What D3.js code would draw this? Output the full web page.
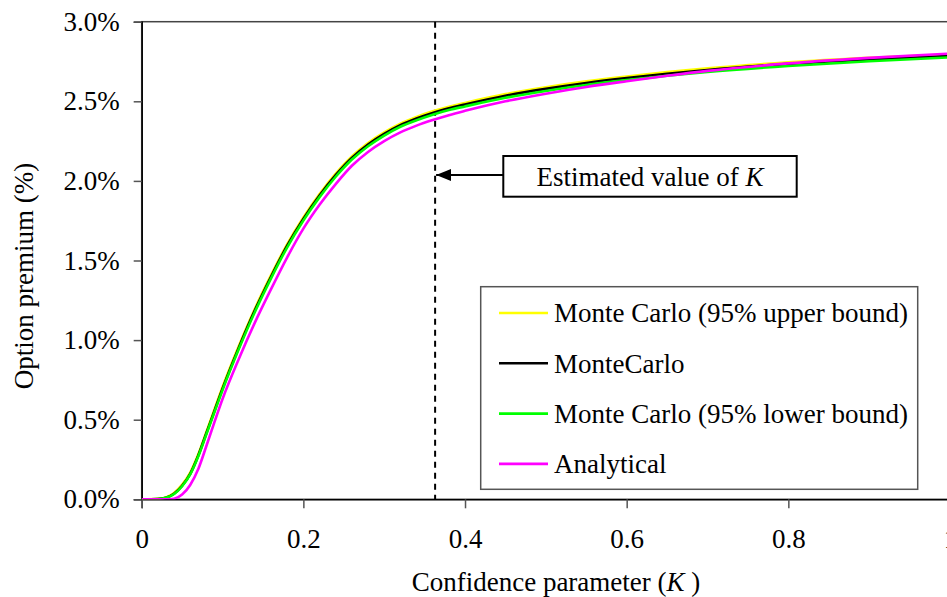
<!DOCTYPE html>
<html>
<head>
<meta charset="utf-8">
<script src="https://cdn.jsdelivr.net/npm/d3@7"></script>
<style>
html,body{margin:0;padding:0;background:#fff;}
svg{display:block;}
</style>
</head>
<body>
<svg id="chart" width="947" height="597" font-family="'Liberation Serif', 'Times New Roman', serif"></svg>
<script>
// ---- data ----
const kValues    = [0, 0.02, 0.03, 0.04, 0.05, 0.06, 0.07, 0.08, 0.09, 0.10, 0.12, 0.14, 0.16, 0.18, 0.20, 0.22, 0.24, 0.26, 0.28, 0.30, 0.32, 0.34, 0.36, 0.38, 0.40, 0.45, 0.50, 0.55, 0.60, 0.65, 0.70, 0.80, 0.90, 1.00];
const mcUpper    = [0, 0.003, 0.012, 0.04, 0.092, 0.168, 0.283, 0.423, 0.565, 0.705, 0.961, 1.197, 1.408, 1.603, 1.771, 1.918, 2.046, 2.154, 2.238, 2.305, 2.36, 2.402, 2.437, 2.466, 2.49, 2.545, 2.588, 2.625, 2.656, 2.683, 2.707, 2.745, 2.773, 2.795];
const mcMean     = [0, 0.002, 0.01, 0.035, 0.085, 0.16, 0.275, 0.415, 0.555, 0.695, 0.951, 1.187, 1.398, 1.593, 1.761, 1.908, 2.036, 2.144, 2.228, 2.295, 2.35, 2.392, 2.427, 2.456, 2.48, 2.535, 2.578, 2.615, 2.646, 2.673, 2.697, 2.735, 2.763, 2.785];
const mcLower    = [0, 0.002, 0.009, 0.033, 0.082, 0.156, 0.27, 0.409, 0.548, 0.687, 0.942, 1.177, 1.388, 1.583, 1.751, 1.898, 2.026, 2.134, 2.218, 2.285, 2.34, 2.381, 2.416, 2.445, 2.468, 2.522, 2.565, 2.602, 2.633, 2.66, 2.684, 2.722, 2.752, 2.776];
const analytical = [0, 0.0, 0.0, 0.004, 0.03, 0.09, 0.19, 0.335, 0.485, 0.63, 0.88, 1.11, 1.32, 1.52, 1.70, 1.85, 1.98, 2.095, 2.182, 2.25, 2.305, 2.347, 2.382, 2.413, 2.44, 2.50, 2.548, 2.59, 2.626, 2.66, 2.691, 2.738, 2.773, 2.80];
const seriesNames  = ["Monte Carlo (95% upper bound)", "MonteCarlo", "Monte Carlo (95% lower bound)", "Analytical"];
const seriesColors = ["#FFFF00", "#000000", "#00FF00", "#FF00FF"];
const xTicks = [0, 0.2, 0.4, 0.6, 0.8, 1];
const xTickLabels = ["0", "0.2", "0.4", "0.6", "0.8", "1"];
const yTicks = [0, 0.5, 1.0, 1.5, 2.0, 2.5, 3.0];
const yTickLabels = ["0.0%", "0.5%", "1.0%", "1.5%", "2.0%", "2.5%", "3.0%"];
const estimatedK = 0.363;

// ---- layout ----
const FONT = "'Liberation Serif', 'Times New Roman', serif";
const svg = d3.select("#chart");
const L = 141.7, R = 950, T = 21.7, B = 499.3;
const x = d3.scaleLinear().domain([0, 1]).range([L, R]);
const y = d3.scaleLinear().domain([0, 3]).range([B, T]);
const FS = 27;

// plot border (top/right)
svg.append("rect").attr("x", L).attr("y", T).attr("width", R - L).attr("height", B - T)
  .attr("fill", "none").attr("stroke", "#444").attr("stroke-width", 1.5);

// axes
const yAxis = d3.axisLeft(y).tickValues(yTicks).tickFormat((d, i) => yTickLabels[i]).tickSize(8).tickPadding(14);
const gy = svg.append("g").attr("transform", `translate(${L},0)`).call(yAxis);
gy.attr("font-family", FONT).attr("font-size", FS);
gy.select(".domain").attr("stroke", "#000").attr("stroke-width", 1.5);
gy.selectAll(".tick line").attr("stroke", "#555").attr("stroke-width", 1.5);
gy.selectAll("text").attr("fill", "#000");

const xAxis = d3.axisBottom(x).tickValues(xTicks).tickFormat((d, i) => xTickLabels[i]).tickSize(9).tickPadding(20.5);
const gx = svg.append("g").attr("transform", `translate(0,${B})`).call(xAxis);
gx.attr("font-family", FONT).attr("font-size", FS);
gx.select(".domain").attr("stroke", "#000").attr("stroke-width", 1.5);
gx.selectAll(".tick line").attr("stroke", "#555").attr("stroke-width", 1.5);
gx.selectAll("text").attr("fill", "#000");

// dashed vertical line
svg.append("line").attr("x1", x(estimatedK)).attr("x2", x(estimatedK)).attr("y1", T).attr("y2", B)
  .attr("stroke", "#000").attr("stroke-width", 2).attr("stroke-dasharray", "6,5");

// series
const allSeries = [mcUpper, mcMean, mcLower, analytical];
const line = d3.line().x((d, i) => x(kValues[i])).y(d => y(d)).curve(d3.curveMonotoneX);
svg.append("clipPath").attr("id", "clip").append("rect").attr("x", L).attr("y", T - 5).attr("width", R - L).attr("height", B - T + 5);
const gLines = svg.append("g").attr("clip-path", "url(#clip)");
allSeries.forEach((s, i) => {
  gLines.append("path").attr("d", line(s)).attr("fill", "none")
    .attr("stroke", seriesColors[i]).attr("stroke-width", 2.6).attr("stroke-linejoin", "round");
});

// annotation box with arrow
const defs = svg.append("defs");
defs.append("marker").attr("id", "arrow").attr("viewBox", "0 0 15 12").attr("refX", 15).attr("refY", 6)
  .attr("markerWidth", 15).attr("markerHeight", 12).attr("markerUnits", "userSpaceOnUse").attr("orient", "auto")
  .append("path").attr("d", "M0,0 L15,6 L0,12 Z").attr("fill", "#000");
const boxX = 503.3, boxY = 156, boxW = 293.4, boxH = 40.7;
svg.append("line").attr("x1", boxX).attr("x2", x(estimatedK) + 1).attr("y1", 175).attr("y2", 175)
  .attr("stroke", "#000").attr("stroke-width", 2).attr("marker-end", "url(#arrow)");
svg.append("rect").attr("x", boxX).attr("y", boxY).attr("width", boxW).attr("height", boxH)
  .attr("fill", "#fff").attr("stroke", "#000").attr("stroke-width", 2);
const ann = svg.append("text").attr("x", boxX + boxW / 2).attr("y", boxY + boxH / 2).attr("dy", "0.35em")
  .attr("text-anchor", "middle").attr("font-family", FONT).attr("font-size", FS);
ann.append("tspan").text("Estimated value of ");
ann.append("tspan").attr("font-style", "italic").text("K");

// legend
const lg = svg.append("g");
lg.append("rect").attr("x", 480.7).attr("y", 286.7).attr("width", 437).attr("height", 202.6)
  .attr("fill", "#fff").attr("stroke", "#555").attr("stroke-width", 1.5);
seriesNames.forEach((n, i) => {
  const ly = 313 + i * 50.3;
  lg.append("line").attr("x1", 499).attr("x2", 548).attr("y1", ly).attr("y2", ly)
    .attr("stroke", seriesColors[i]).attr("stroke-width", 2.6);
  lg.append("text").attr("x", 554).attr("y", ly).attr("dy", "0.35em")
    .attr("font-family", FONT).attr("font-size", FS).text(n);
});

// axis titles
const xt = svg.append("text").attr("x", 556).attr("y", 591).attr("text-anchor", "middle")
  .attr("font-family", FONT).attr("font-size", FS);
xt.append("tspan").text("Confidence parameter (");
xt.append("tspan").attr("font-style", "italic").text("K");
xt.append("tspan").text(" )");

svg.append("text").attr("transform", `translate(24,276) rotate(-90)`).attr("dy", "0.35em")
  .attr("text-anchor", "middle").attr("font-family", FONT).attr("font-size", FS).text("Option premium (%)");
</script>
</body>
</html>
